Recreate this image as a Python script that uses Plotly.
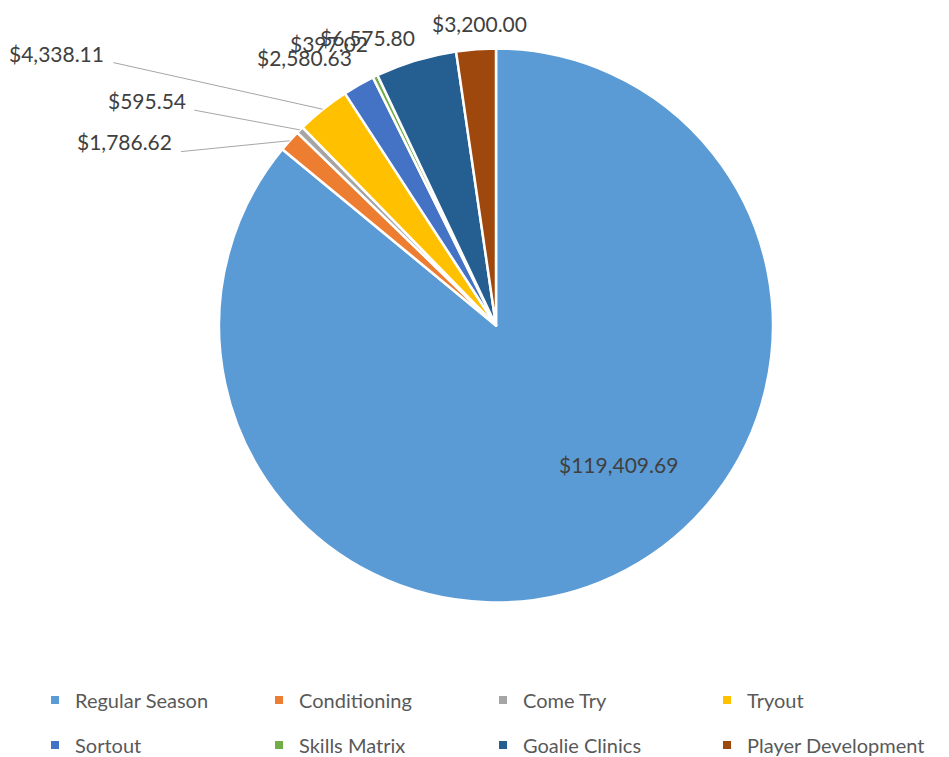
import math
import plotly.graph_objects as go

categories = ["Regular Season", "Conditioning", "Come Try", "Tryout",
              "Sortout", "Skills Matrix", "Goalie Clinics", "Player Development"]
values = [119409.69, 1786.62, 595.54, 4338.11, 2580.63, 397.02, 6575.80, 3200.00]
colors = ["#5B9BD5", "#ED7D31", "#A5A5A5", "#FFC000",
          "#4472C4", "#70AD47", "#255E91", "#9E480E"]

W, H = 949, 757
dom_x = [219 / W, 773 / W]
dom_y = [1 - 603 / H, 1 - 48 / H]

fig = go.Figure(go.Pie(
    labels=categories, values=values, sort=False, direction="clockwise",
    rotation=0, textinfo="none", hoverinfo="label+value", showlegend=False,
    marker=dict(colors=colors, line=dict(color="white", width=2.5)),
    domain=dict(x=dom_x, y=dom_y),
))

# legend entries (two rows, as in the reference)
for i, (c, col) in enumerate(zip(categories, colors)):
    fig.add_trace(go.Scatter(
        x=[None], y=[None], mode="markers", name=c, hoverinfo="skip",
        marker=dict(symbol="square", size=8, color=col),
        legend="legend" if i < 4 else "legend2",
    ))

# label placement styles: (radius factor, text dx, text dy, leader end dx, dy or None), px
label_style = [
    (0.6, 52, -11, None),
    (1.0, -165, 1, (-110, 11)),
    (1.0, -153, -29, (-107, -20)),
    (1.0, -266, -56, (-211, -47)),
    (1.0, -54, -27, None),
    (1.0, -46, -33, None),
    (1.0, -48, -23, None),
    (1.0, 4, -26, None),
]

cx = (dom_x[0] + dom_x[1]) / 2 * W
cy = (1 - (dom_y[0] + dom_y[1]) / 2) * H
r = min((dom_x[1] - dom_x[0]) * W, (dom_y[1] - dom_y[0]) * H) / 2
total = sum(values)
cum = 0.0
annotations = []
for v, (rf, dx, dy, leader) in zip(values, label_style):
    mid = (cum + v / 2) / total * 2 * math.pi
    cum += v
    px = cx + rf * r * math.sin(mid)
    py = cy - rf * r * math.cos(mid)
    text = "${:,.2f}".format(v)
    annotations.append(dict(
        x=px / W, y=1 - py / H, xref="paper", yref="paper", text=text,
        xanchor="center", yanchor="middle", showarrow=False,
        xshift=dx, yshift=-dy,
        font=dict(family="Lato", size=21, color="#404040")))
    if leader:
        annotations.append(dict(
            x=px / W, y=1 - py / H, xref="paper", yref="paper", text="",
            showarrow=True, arrowhead=0, arrowwidth=1, arrowcolor="#A6A6A6",
            ax=leader[0], ay=leader[1], standoff=0))

legend_common = dict(orientation="h", x=0.0369, xanchor="left", yanchor="middle",
                     entrywidth=179, itemwidth=30, bgcolor="rgba(0,0,0,0)",
                     font=dict(family="Lato", size=20, color="#595959"))

fig.update_layout(
    width=W, height=H, paper_bgcolor="white", plot_bgcolor="white",
    margin=dict(l=0, r=0, t=0, b=0, autoexpand=False),
    annotations=annotations,
    showlegend=True,
    xaxis=dict(visible=False), yaxis=dict(visible=False),
    legend=dict(y=1 - 700 / H, **legend_common),
    legend2=dict(y=1 - 745 / H, **legend_common),
)

fig.write_html("out.html", config={"displayModeBar": False},
               post_script="document.body.style.margin='0';")
